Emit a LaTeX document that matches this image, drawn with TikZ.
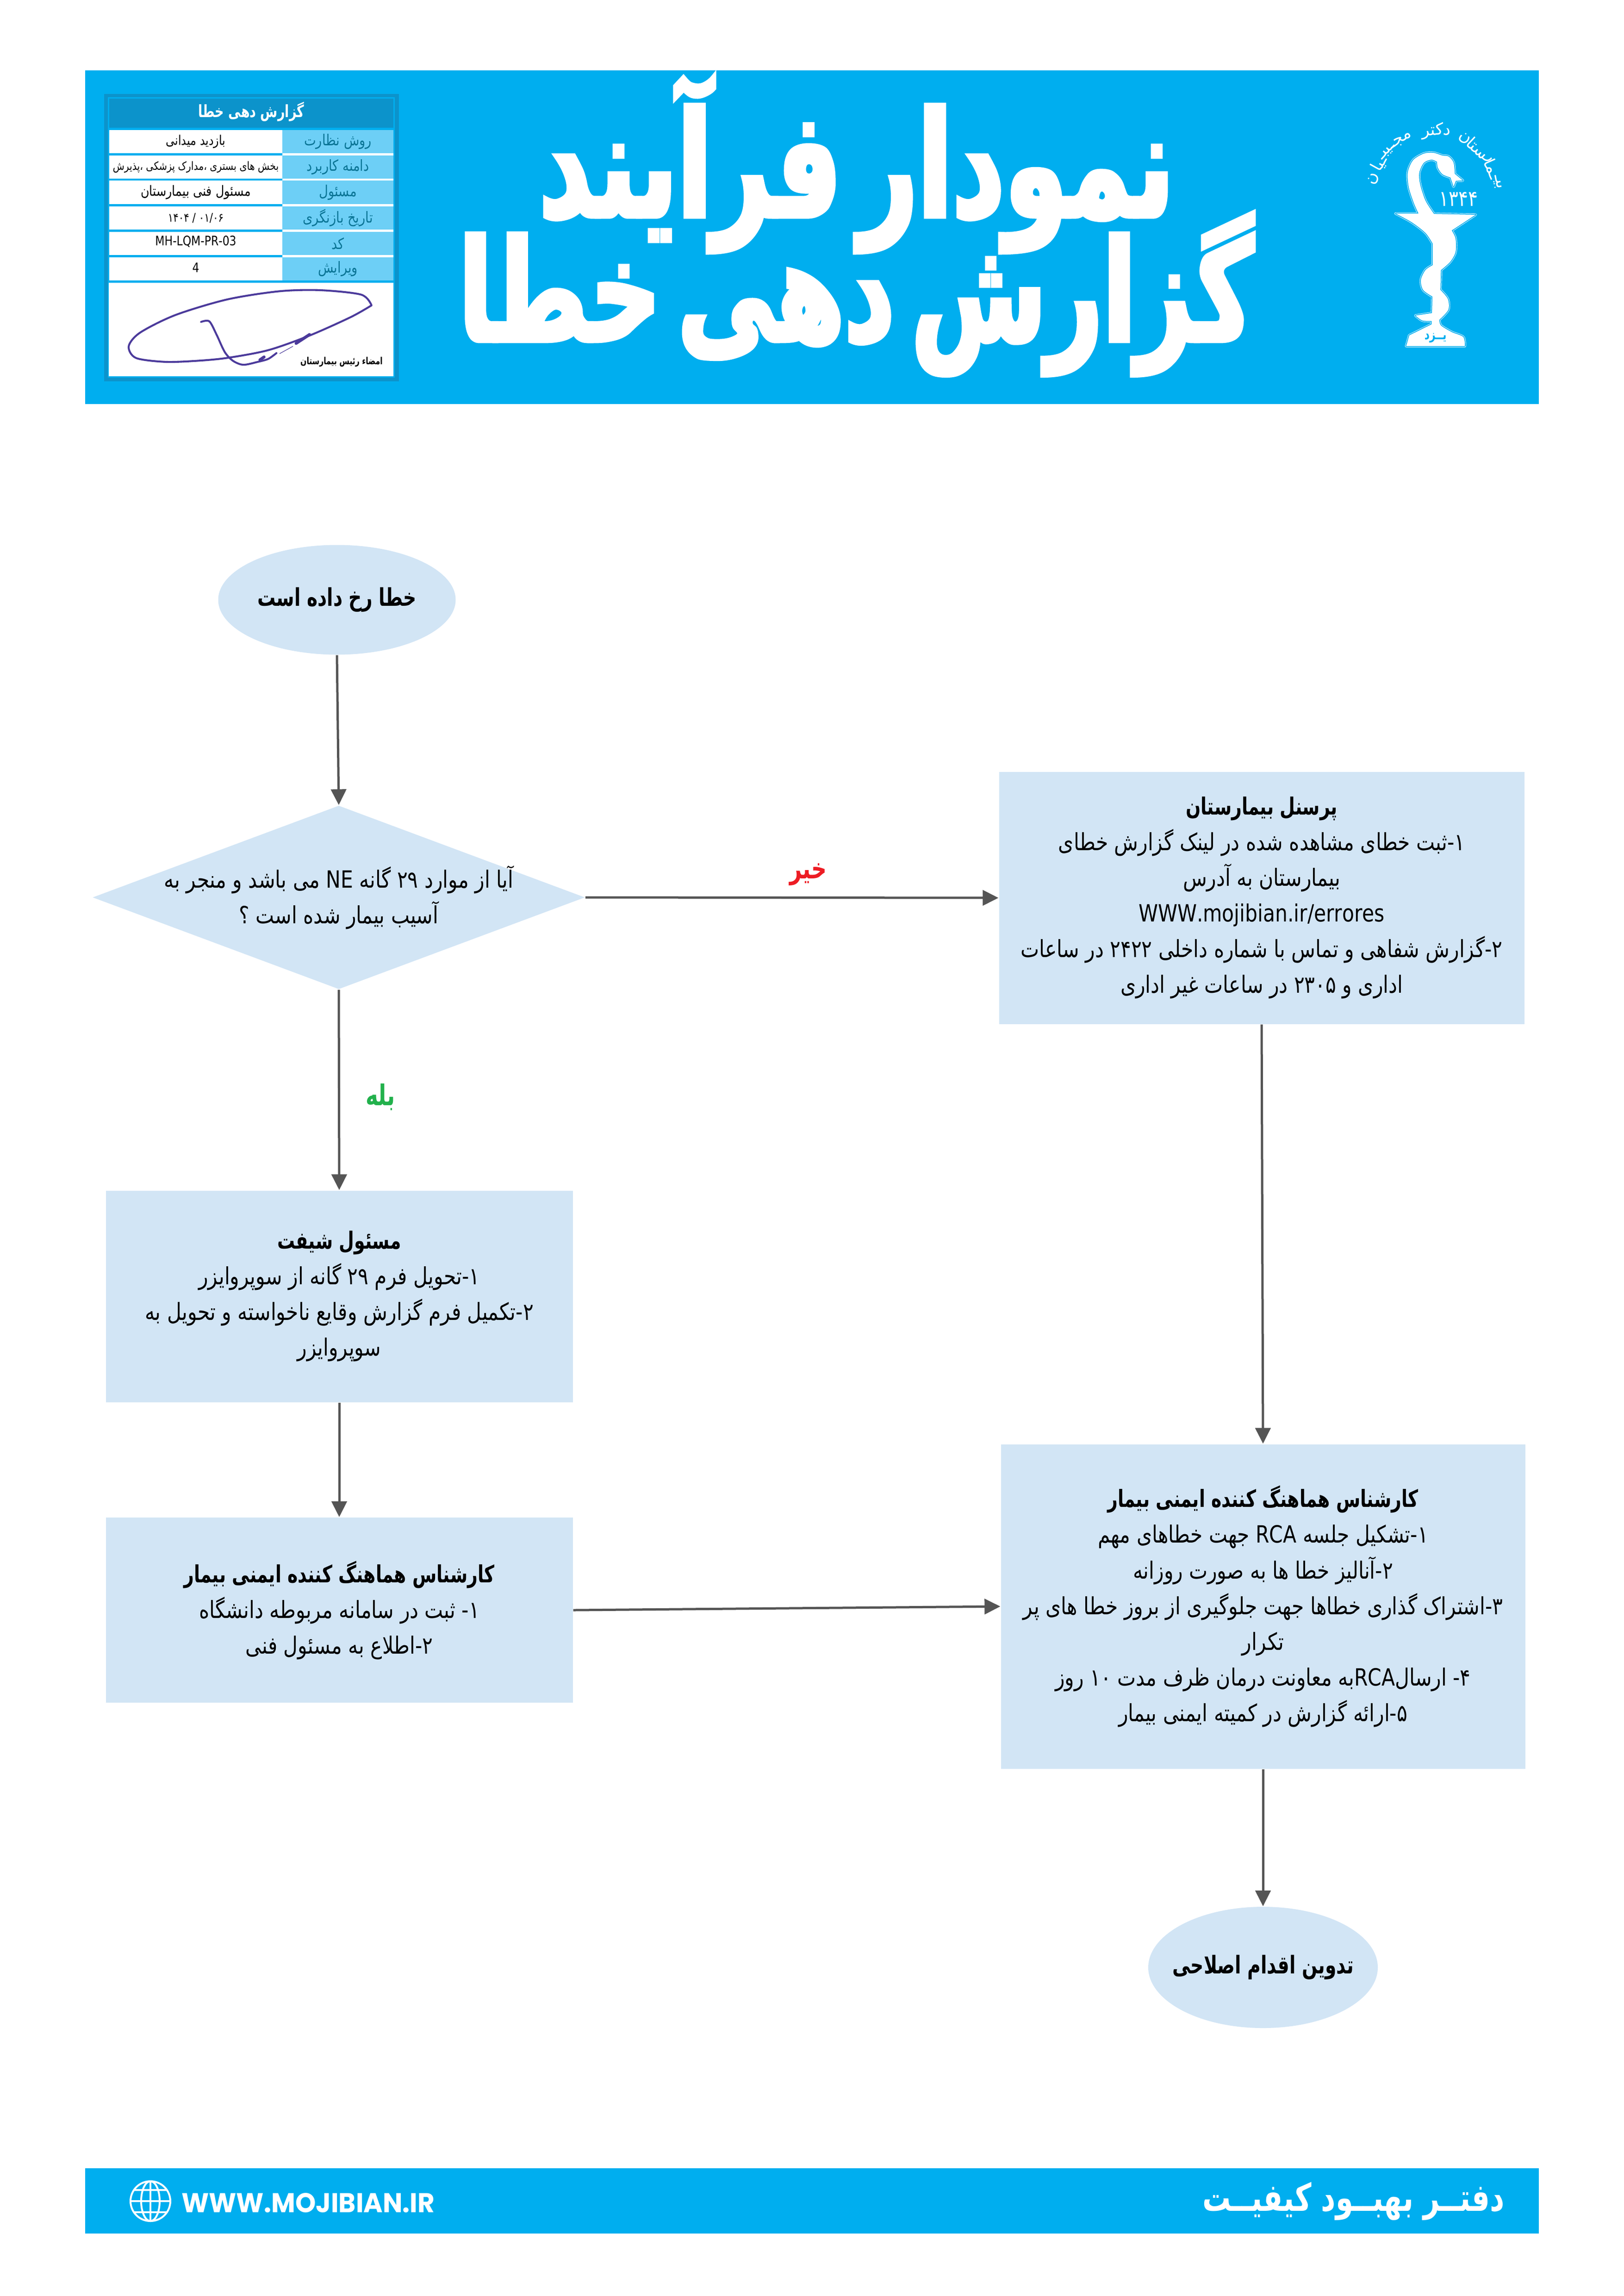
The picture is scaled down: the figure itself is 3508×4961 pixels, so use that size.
\documentclass[tikz,border=0pt]{standalone}
\usepackage{fontspec}
\usetikzlibrary{shapes.geometric,arrows.meta}
\TeXXeTstate=1
\newfontfamily\fafont[Script=Arabic,FakeStretch=0.83,BoldFeatures={FakeStretch=0.74}]{DejaVu Sans}
\newfontfamily\fatitle[Script=Arabic,FakeStretch=0.69,FakeBold=3,WordSpace=0.5]{DejaVu Sans Bold}
\newfontfamily\faarc[Script=Arabic]{DejaVu Sans}
\newfontfamily\webfont[FakeStretch=0.96]{Poppins Bold}
\newcommand{\fa}[1]{\beginR #1\endR}
\definecolor{bandblue}{HTML}{00AEEF}
\definecolor{panelblue}{HTML}{0C93CB}
\definecolor{celllight}{HTML}{6DCFF6}
\definecolor{cellink}{HTML}{0B7596}
\definecolor{boxfill}{HTML}{D2E5F5}
\definecolor{flowgray}{HTML}{555555}
\definecolor{signink}{HTML}{4B3A9B}
\definecolor{noink}{HTML}{ED1C24}
\definecolor{yesink}{HTML}{22B14C}
\def\px{0.17pt}
\tikzset{
  flowbox/.style={rectangle,fill=boxfill,inner sep=0pt,align=center,font=\fafont\fontsize{8.7}{13.1}\selectfont},
  flowoval/.style={ellipse,fill=boxfill,inner sep=0pt},
  flowdiamond/.style={diamond,fill=boxfill,inner sep=0pt},
  bodytext/.style={inner sep=0pt,align=center,font=\fafont\fontsize{8.7}{13.1}\selectfont},
  boldtext/.style={inner sep=0pt,font=\fafont\bfseries\fontsize{9}{13}\selectfont},
  flowline/.style={draw=flowgray,line width=5*\px,-{Triangle[width=33*\px,length=34*\px]}},
  titletext/.style={inner sep=0pt,text=white,font=\fatitle\fontsize{52}{60}\selectfont},
  labelcell/.style={inner sep=0pt,text=cellink,font=\fafont\fontsize{5.6}{8}\selectfont},
  valuecell/.style={inner sep=0pt,text=black,font=\fafont\fontsize{4.8}{6}\selectfont},
  arctext/.style={inner sep=0pt,text=white,font=\faarc\fontsize{6}{7}\selectfont},
}
\newcommand{\cupoutline}{(497,648) -- (645,648)
  -- plot[smooth] coordinates {(645,648) (615,585) (582,490) (575,400) (610,325) (680,285) (740,280) (800,297) (840,303) (872,340) (880,408)}
  -- (932,448) -- (887,450) -- (872,485) -- (852,430)
  -- plot[smooth] coordinates {(852,430) (800,410) (770,370) (765,335)}
  -- plot[smooth] coordinates {(765,335) (730,322) (680,340) (650,400) (655,470) (690,570) (745,650)}
  -- (1015,655) -- (860,750)
  -- plot[smooth] coordinates {(860,750) (885,800) (885,880) (850,940) (790,990)}
  -- (787,1110)
  -- plot[smooth] coordinates {(787,1110) (835,1165) (838,1230) (780,1290)}
  -- plot[smooth] coordinates {(780,1290) (790,1325) (860,1365) (935,1395) (945,1450)}
  -- (565,1450) -- (585,1385) -- (730,1318) -- (730,1298)
  -- plot[smooth] coordinates {(730,1298) (670,1295) (625,1265)}
  -- (732,1250) -- (735,1150)
  -- plot[smooth] coordinates {(735,1150) (675,1110) (660,1050) (690,990) (737,960)}
  -- (737,830)
  -- plot[smooth] coordinates {(737,830) (690,765) (600,700) (497,648)} -- cycle}
\begin{document}
\begin{tikzpicture}[x=\px,y=-\px]
\useasboundingbox (0,0) rectangle (3508,4961);
\fill[white] (0,0) rectangle (3508,4961);

% Header band
\fill[bandblue] (184,152) rectangle (3325,873);
\node[titletext,font=\fatitle\fontsize{54}{60}\selectfont] (titleone) at (1851,355) {\fa{نمودار فرآیند}};
\node[titletext] (titletwo) at (1850,635) {\fa{گزارش دهی خطا}};

% Document panel
\fill[panelblue] (225,203) rectangle (862,824);
\fill[bandblue] (233,210) rectangle (853,816);
\fill[panelblue] (236,213) rectangle (850,276);
\node[inner sep=0pt,text=white,font=\fafont\bfseries\fontsize{6.2}{8}\selectfont] (paneltitle) at (543,241) {\fa{گزارش دهی خطا}};
\fill[white] (610,281) rectangle (850,606);
\foreach \ytop/\ybot/\valsize/\rowlabel/\rowvalue in {
  281/331/4.9/{روش نظارت}/{بازدید میدانی},
  336/386/4.2/{دامنه کاربرد}/{بخش های بستری ،مدارک پزشکی ،پذیرش},
  390/441/5.2/{مسئول}/{مسئول فنی بیمارستان},
  446/496/4.4/{تاریخ بازنگری}/{۰۱/۰۶ / ۱۴۰۴},
  501/551/4.8/{کد}/{},
  556/606/4.8/{ویرایش}/{}}{
  \fill[white] (236,\ytop) rectangle (610,\ybot);
  \fill[celllight] (610,\ytop) rectangle (850,\ybot);
  \node[labelcell] at (730,{(\ytop+\ybot)/2}) {\fa{\rowlabel}};
  \node[valuecell] at (423,{(\ytop+\ybot)/2}) {\fontsize{\valsize}{6}\selectfont\fa{\rowvalue}};
}
\node[valuecell] (panelcode) at (423,522) {MH-LQM-PR-03};
\node[valuecell] (panelrev) at (423,578) {4};
\fill[white] (235,611) rectangle (850,813);

% Signature
\begin{scope}[shift={(200,180)},x=0.07589pt,y=-0.07155pt]
\draw[signink,line width=0.7pt,line cap=round] plot[smooth] coordinates {(1350,1140) (1300,1085) (1100,1062) (900,1068) (650,1110) (400,1190) (230,1280) (175,1350) (210,1410) (350,1430) (500,1425) (650,1410) (850,1370) (1050,1295) (1250,1200) (1350,1140)};
\draw[signink,line width=0.7pt,line cap=round] plot[smooth] coordinates {(525,1225) (565,1222) (600,1290) (640,1380) (680,1425) (730,1445) (800,1430) (850,1415) (890,1385)};
\draw[signink,line width=1.1pt,line cap=round] (985,1335) -- (1050,1290);
\draw[signink,line width=1.1pt,line cap=round] (810,1420) -- (830,1405);
\draw[signink,line width=0.2pt] (905,1388) -- (970,1350);
\end{scope}
\node[inner sep=0pt,font=\fafont\bfseries\fontsize{3.6}{5}\selectfont] (signlabel) at (738,782) {\fa{امضاء رئیس بیمارستان}};

% Logo
\begin{scope}[shift={(2850,230)},x=0.05667pt,y=-0.06071pt]
\draw[white,line width=0.9pt,line join=round] \cupoutline;
\draw[bandblue,line width=0.6pt,line join=round] \cupoutline;
\fill[white] \cupoutline;
\node[inner sep=0pt,text=bandblue,font=\fafont\bfseries\fontsize{5}{6}\selectfont] (cityname) at (755,1400) {\fa{یــزد}};
\node[inner sep=0pt,text=white,font=\fafont\fontsize{8}{8}\selectfont] (founded) at (905,560) {۱۳۴۴};
\end{scope}
\foreach \seg/\ang in {بیـ/11,ـما/24,ر/34,ستا/47,ن/62,د/79,کتر/92,مجـ/122,ـیبـ/138,ـیا/151,ن/166}{
  \node[arctext,rotate=\ang-90] at ({3100+137*cos(\ang)},{420-137*sin(\ang)}) {\fa{\seg}};
}

% Flow nodes
\node[flowoval,minimum width=513*\px,minimum height=237*\px] (start) at (728,1296) {};
\node[boldtext] (starttext) at (start.center) {\fa{خطا رخ داده است}};
\node[flowdiamond,minimum width=1064*\px,minimum height=397*\px] (decide) at (732,1939) {};
\node[bodytext] (decidetext) at (decide.center) {\fa{آیا از موارد ۲۹ گانه NE می باشد و منجر به}\\\fa{آسیب بیمار شده است ؟}};
\node[flowbox,minimum width=1135*\px,minimum height=545*\px] (staff) at (2726,1940) {\bfseries\fa{پرسنل بیمارستان}\\\fa{۱-ثبت خطای مشاهده شده در لینک گزارش خطای}\\\fa{بیمارستان به آدرس}\\WWW.mojibian.ir/errores\\\fa{۲-گزارش شفاهی و تماس با شماره داخلی ۲۴۲۲ در ساعات}\\\fa{اداری و ۲۳۰۵ در ساعات غیر اداری}};
\node[flowbox,minimum width=1009*\px,minimum height=457*\px] (shift) at (733,2801) {\bfseries\fa{مسئول شیفت}\\\fa{۱-تحویل فرم ۲۹ گانه از سوپروایزر}\\\fa{۲-تکمیل فرم گزارش وقایع ناخواسته و تحویل به}\\\fa{سوپروایزر}};
\node[flowbox,minimum width=1009*\px,minimum height=400*\px] (expertleft) at (733,3479) {\bfseries\fa{کارشناس هماهنگ کننده ایمنی بیمار}\\\fa{۱- ثبت در سامانه مربوطه دانشگاه}\\\fa{۲-اطلاع به مسئول فنی}};
\node[flowbox,minimum width=1133*\px,minimum height=701*\px] (expertright) at (2729,3471) {\bfseries\fa{کارشناس هماهنگ کننده ایمنی بیمار}\\\fa{۱-تشکیل جلسه RCA جهت خطاهای مهم}\\\fa{۲-آنالیز خطا ها به صورت روزانه}\\\fa{۳-اشتراک گذاری خطاها جهت جلوگیری از بروز خطا های پر}\\\fa{تکرار}\\\fa{۴- ارسالRCAبه معاونت درمان ظرف مدت ۱۰ روز}\\\fa{۵-ارائه گزارش در کمیته ایمنی بیمار}};
\node[flowoval,minimum width=496*\px,minimum height=262*\px] (finish) at (2729,4251) {};
\node[boldtext] (finishtext) at (finish.center) {\fa{تدوین اقدام اصلاحی}};

% Connectors
\draw[flowline] (start.south) -- (decide.north);
\draw[flowline] (decide.east) -- (staff.west);
\draw[flowline] (decide.south) -- (shift.north);
\draw[flowline] (shift.south) -- (expertleft.north);
\draw[flowline] (expertleft.east) -- (expertright.west);
\draw[flowline] (staff.south) -- (expertright.north);
\draw[flowline] (expertright.south) -- (finish.north);
\node[inner sep=0pt,text=noink,font=\fafont\bfseries\fontsize{10.5}{12}\selectfont] (nolabel) at (1746,1890) {\fa{خیر}};
\node[inner sep=0pt,text=yesink,font=\fafont\bfseries\fontsize{10.5}{12}\selectfont] (yeslabel) at (822,2370) {\fa{بله}};

% Footer band
\fill[bandblue] (184,4685) rectangle (3325,4826);
\begin{scope}[white,line width=4*\px]
\draw (325,4756) circle (43);
\draw (325,4756) ellipse (20 and 43);
\draw (325,4713) -- (325,4799);
\draw (282,4756) -- (368,4756);
\draw (290,4732) -- (360,4732);
\draw (290,4780) -- (360,4780);
\end{scope}
\node[inner sep=0pt,anchor=west,text=white,font=\webfont\fontsize{10}{12}\selectfont] (website) at (391,4760) {WWW.MOJIBIAN.IR};
\node[inner sep=0pt,anchor=east,text=white,font=\fafont\bfseries\fontsize{14}{16}\selectfont] (office) at (3252,4756) {\fa{دفتــر بهبــود کیفیــت}};
\end{tikzpicture}
\end{document}
